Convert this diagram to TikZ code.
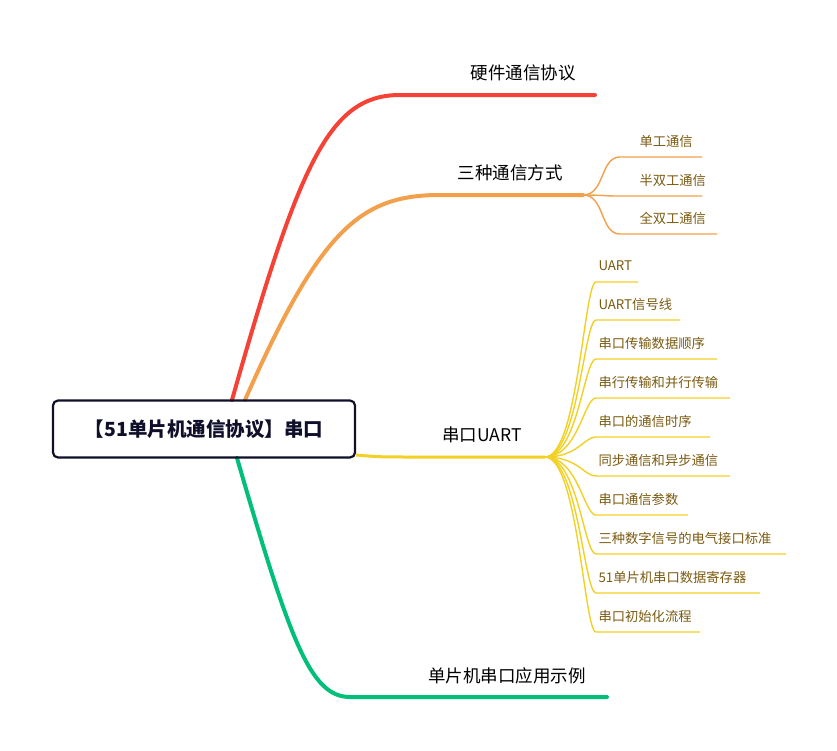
\documentclass[tikz,border=0pt]{standalone}
\usepackage{fontspec}
\setmainfont{Noto Sans CJK SC}
\definecolor{cRed}{HTML}{F44336}
\definecolor{cOrange}{HTML}{F2A04C}
\definecolor{cYellow}{HTML}{F2D024}
\definecolor{cGreen}{HTML}{00BF7A}
\definecolor{cText}{HTML}{7A5A10}
\definecolor{cRoot}{HTML}{0F0F2A}
\begin{document}
\begin{tikzpicture}[x=1pt,y=-1pt,
  rootnode/.style={draw=cRoot,line width=2.2pt,rounded corners=5pt,minimum width=302pt,minimum height=57pt,font=\bfseries\fontsize{19.5}{20}\selectfont,text=cRoot},
  topic/.style={font=\fontsize{17.5}{18}\selectfont,text=black},
  leaf/.style={font=\fontsize{13.3}{14}\selectfont,text=cText,anchor=west},
  main/.style={line width=4pt,line cap=round},
  sub/.style={line width=1.4pt}]
\useasboundingbox (0,0) rectangle (837,750);
% main branches
\coordinate (r0) at (232,400); \coordinate (r1) at (400,95); \coordinate (r2) at (595,95);
\draw[main,cRed] (r0) .. controls (300,160) and (330,95) .. (r1) -- (r2);
\coordinate (o0) at (245,400); \coordinate (o1) at (440,195); \coordinate (o2) at (583,195);
\draw[main,cOrange] (o0) .. controls (320,230) and (360,195) .. (o1) -- (o2);
\coordinate (g0) at (237,458); \coordinate (g1) at (350,697); \coordinate (g2) at (607,697);
\draw[main,cGreen] (g0) .. controls (290,640) and (310,697) .. (g1) -- (g2);
\coordinate (y0) at (356,455); \coordinate (y1) at (420,457); \coordinate (y2) at (545,457);
\draw[line width=3pt,cYellow] (y0) .. controls (380,457) .. (y1) -- (y2);
\node[rootnode] (root) at (204,429) {【51单片机通信协议】串口};
\node[topic] (hw) at (523,73) {硬件通信协议};
\node[topic] (three) at (510,173) {三种通信方式};
\node[topic] (uart) at (482,435) {串口UART};
\node[topic] (app) at (507,676) {单片机串口应用示例};
% orange children
\foreach \y/\e/\t [count=\i] in {157/702/单工通信,196/702/半双工通信,234/717/全双工通信}{
  \coordinate (oc\i) at (620,\y); \coordinate (oe\i) at (\e,\y);
  \draw[sub,cOrange] (o2) .. controls (605,195) and (600,\y) .. (oc\i) -- (oe\i);
  \node[leaf] (ol\i) at (636,\y-16) {\t};
}
% yellow children
\foreach \y/\e/\t [count=\i] in {282/638/UART,320/680/UART信号线,359/717/串口传输数据顺序,398/730/串行传输和并行传输,437/710/串口的通信时序,476/730/同步通信和异步通信,515/688/串口通信参数,554/786/三种数字信号的电气接口标准,593/760/51单片机串口数据寄存器,632/700/串口初始化流程}{
  \coordinate (yc\i) at (596,\y); \coordinate (ye\i) at (\e,\y);
  \draw[sub,cYellow] (y2) .. controls (578,457) and (584,\y) .. (yc\i) -- (ye\i);
  \node[leaf] (yl\i) at (595,\y-16) {\t};
}
\end{tikzpicture}
\end{document}
